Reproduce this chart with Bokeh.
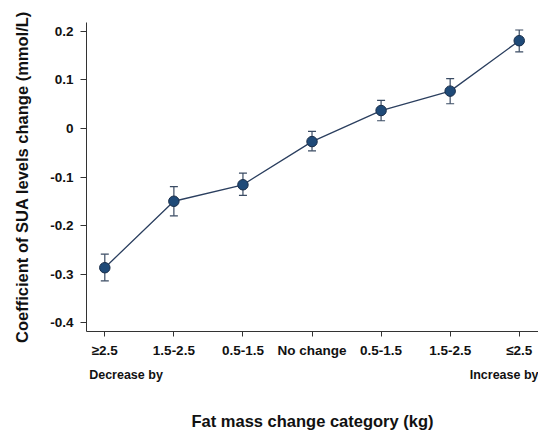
from bokeh.plotting import figure
from bokeh.models import (ColumnDataSource, FixedTicker, LinearAxis, Range1d,
                          Whisker, TeeHead)
from bokeh.embed import file_html
from bokeh.resources import INLINE

# ---- data ----
categories = ["≥2.5", "1.5-2.5", "0.5-1.5", "No change", "0.5-1.5", "1.5-2.5", "≤2.5"]
coef = [-0.287, -0.150, -0.116, -0.027, 0.037, 0.077, 0.181]
lower = [-0.314, -0.180, -0.138, -0.046, 0.016, 0.051, 0.158]
upper = [-0.259, -0.120, -0.092, -0.006, 0.058, 0.103, 0.203]
y_ticks = [-0.4, -0.3, -0.2, -0.1, 0.0, 0.1, 0.2]
y_tick_labels = ["-0.4", "-0.3", "-0.2", "-0.1", "0", "0.1", "0.2"]
side_labels = ["Decrease by", "Increase by"]
side_label_pos = [0.307, 5.87]

FONT = "Liberation Sans"
xs = list(range(len(categories)))
src = ColumnDataSource(dict(x=xs, y=coef, lo=lower, up=upper))

p = figure(frame_width=452, frame_height=309,
           x_range=Range1d(-0.265, 6.279), y_range=Range1d(-0.4185, 0.2185),
           output_backend="svg", toolbar_location=None,
           min_border_left=86, min_border_right=0, min_border_top=22,
           x_axis_location=None, y_axis_location=None)
p.outline_line_color = None
p.xgrid.visible = False
p.ygrid.visible = False
p.background_fill_color = "white"

# y axis
ya = LinearAxis(ticker=FixedTicker(ticks=y_ticks),
                major_label_overrides={t: l for t, l in zip(y_ticks, y_tick_labels)})
ya.axis_label = "Coefficient of SUA levels change (mmol/L)"
p.add_layout(ya, "left")

# main x axis
xa = LinearAxis(ticker=FixedTicker(ticks=xs),
                major_label_overrides={i: c for i, c in zip(xs, categories)})
p.add_layout(xa, "below")

# secondary x axis for side labels + title
xa2 = LinearAxis(ticker=FixedTicker(ticks=side_label_pos),
                 major_label_overrides={t: l for t, l in zip(side_label_pos, side_labels)})
xa2.axis_label = "Fat mass change category (kg)"
p.add_layout(xa2, "below")

for ax in (ya, xa, xa2):
    ax.axis_line_color = "#333333"
    ax.axis_line_width = 1
    ax.major_tick_line_color = "#333333"
    ax.minor_tick_line_color = None
    ax.major_tick_in = 0
    ax.major_label_text_font = FONT
    ax.major_label_text_font_style = "bold"
    ax.major_label_text_color = "#111111"
    ax.axis_label_text_font = FONT
    ax.axis_label_text_font_style = "bold"
    ax.axis_label_text_color = "#111111"
    ax.axis_label_text_font_size = "16.5px"

ya.major_tick_out = 6
ya.major_label_standoff = 7
ya.major_label_text_font_size = "13.5px"
ya.axis_label_standoff = 16

xa.major_tick_out = 5
xa.major_label_standoff = 6
xa.major_label_text_font_size = "13.5px"

xa2.axis_line_color = None
xa2.major_tick_line_color = None
xa2.major_tick_out = 0
xa2.major_label_standoff = 7
xa2.major_label_text_font_size = "12.5px"
xa2.axis_label_standoff = 27

# line + error bars + points
p.line("x", "y", source=src, line_color="#2b3f5f", line_width=1.3)
w = Whisker(base="x", lower="lo", upper="up", source=src,
            line_color="#3a4b63", line_width=1.2,
            upper_head=TeeHead(size=8, line_color="#3a4b63", line_width=1.2),
            lower_head=TeeHead(size=8, line_color="#3a4b63", line_width=1.2))
p.add_layout(w)
p.scatter("x", "y", source=src, size=10.5, fill_color="#1f4a78",
          line_color="#1a2e4a", line_width=1)

open("out.html", "w").write(file_html(p, INLINE))
